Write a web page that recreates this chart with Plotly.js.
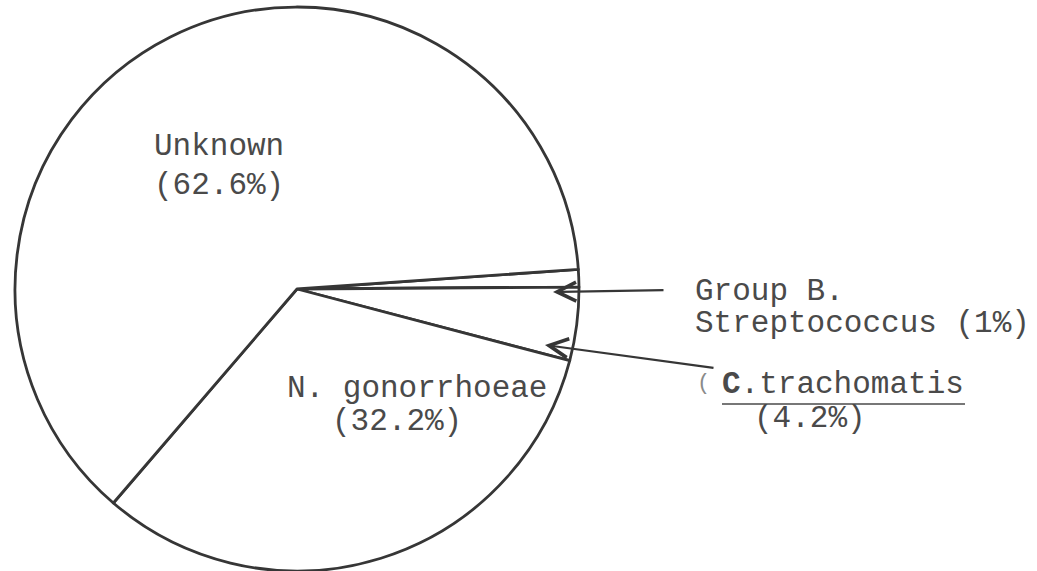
<!DOCTYPE html>
<html>
<head>
<meta charset="utf-8">
<script src="https://cdn.plot.ly/plotly-3.0.1.min.js"></script>
<style>html,body{margin:0;padding:0;background:#fff;}#chart{width:1037px;height:571px;}</style>
</head>
<body>
<div id="chart"></div>
<script>
// Data
var categories = ["Group B. Streptococcus", "C.trachomatis", "N. gonorrhoeae", "Unknown"];
var percentages = [1, 4.2, 32.2, 62.6];
var labelLines = [
  ["Group B.", "Streptococcus (1%)"],
  ["<b>C</b>.trachomatis", "(4.2%)"],
  ["N. gonorrhoeae", "(32.2%)"],
  ["Unknown", "(62.6%)"]
];

var W = 1037, H = 571;
function px(x){ return x / W; }
function py(y){ return 1 - y / H; }

var ink = "#363636";
var textInk = "#4a4a4a";
var font = {family: "Liberation Mono, Courier New, monospace", size: 31, color: textInk};

var trace = {
  type: "pie",
  labels: categories,
  values: percentages,
  sort: false,
  direction: "clockwise",
  rotation: 86,
  textinfo: "none",
  hoverinfo: "none",
  marker: {colors: ["#ffffff","#ffffff","#ffffff","#ffffff"], line: {color: ink, width: 2.8}},
  domain: {x: [px(297 - 282), px(297 + 282)], y: [0, 0.9877]},
  showlegend: false
};

// Label placement (left x, center y in pixels)
var pos = {
  "Group B. Streptococcus": [[693, 291], [693, 323]],
  "C.trachomatis": [[720, 384], [752, 418]],
  "N. gonorrhoeae": [[285, 388], [330, 421]],
  "Unknown": [[152, 147], [152, 185]]
};

var annotations = [];
categories.forEach(function(c, i){
  labelLines[i].forEach(function(t, j){
    var p = pos[c][j];
    annotations.push({xref: "paper", yref: "paper", x: px(p[0]), y: py(p[1]),
      xanchor: "left", yanchor: "middle", text: t, showarrow: false, font: font});
  });
});
// stray typewriter parenthesis
annotations.push({xref:"paper", yref:"paper", x: px(695), y: py(383), xanchor:"left", yanchor:"middle",
  text:"(", showarrow:false, font:{family: font.family, size: 22, color:"#8a8a8a"}});

// arrows: head positions and tails
annotations.push({xref:"paper", yref:"paper", x: px(553), y: py(292), text:"", showarrow:true,
  arrowhead:5, arrowsize:1.7, arrowwidth:2.2, arrowcolor: ink, ax: 112, ay: -2});
annotations.push({xref:"paper", yref:"paper", x: px(545), y: py(345), text:"", showarrow:true,
  arrowhead:5, arrowsize:1.7, arrowwidth:2.2, arrowcolor: ink, ax: 170, ay: 23});

var layout = {
  width: W, height: H,
  margin: {l:0, r:0, t:0, b:0},
  paper_bgcolor: "#ffffff",
  plot_bgcolor: "#ffffff",
  showlegend: false,
  annotations: annotations,
  shapes: [{type:"line", xref:"paper", yref:"paper", x0: px(722), x1: px(965), y0: py(404), y1: py(404),
    line:{color: textInk, width: 1.5}}]
};

Plotly.newPlot("chart", [trace], layout, {staticPlot: true, displayModeBar: false});
</script>
</body>
</html>
